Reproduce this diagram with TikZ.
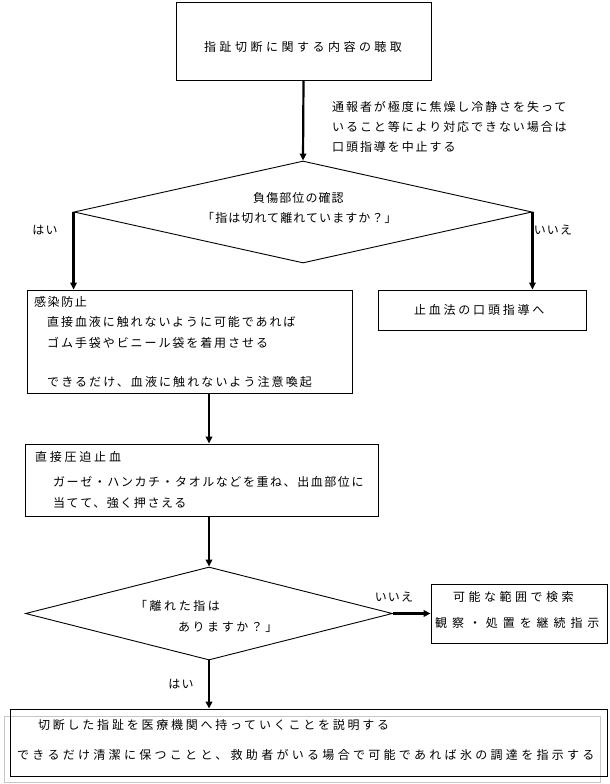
\documentclass[tikz,border=0pt]{standalone}
\usepackage{fontspec}
\setmainfont{Noto Sans CJK JP}
\usetikzlibrary{shapes.geometric,arrows.meta}
\newcommand{\LS}[2]{{\addfontfeature{LetterSpace=#1}#2}}
\tikzset{
  box/.style={draw, line width=0.9pt, inner sep=0pt},
  dia/.style={draw, diamond, inner sep=0pt, line width=0.9pt},
  txt/.style={anchor=west, inner sep=0pt, font=\fontsize{12pt}{14pt}\selectfont},
  ctxt/.style={inner sep=0pt, font=\fontsize{12pt}{14pt}\selectfont},
  arr/.style={line width=2.2pt, -{Triangle[width=6.5pt,length=7pt]}}
}
\begin{document}
\begin{tikzpicture}[x=1pt,y=-1pt]
\useasboundingbox[fill=white] (0,0) rectangle (610,784);
% boxes
\node[box, minimum width=255pt, minimum height=78pt] (top) at (303.5,41) {};
\node[dia, minimum width=458pt, minimum height=102pt] (d1) at (303,212) {};
\node[box, minimum width=325pt, minimum height=103pt] (b1) at (189.5,341.5) {};
\node[box, minimum width=208pt, minimum height=40pt] (b2) at (482,310) {};
\node[box, minimum width=353pt, minimum height=72pt] (b3) at (201.5,480) {};
\node[dia, minimum width=367pt, minimum height=93pt] (d2) at (209,613.5) {};
\node[box, minimum width=176pt, minimum height=59pt] (b4) at (519,613.5) {};
\node[draw=black!22, line width=0.9pt, inner sep=0pt, minimum width=596pt, minimum height=66pt] (g5) at (302,749) {};
\node[box, minimum width=597pt, minimum height=67pt] (b5) at (308.5,742.5) {};
% texts
\node[txt] (t0) at (204,47) {\LS{29}{指趾切断に関する内容の聴取}};
\node[txt] (a1) at (332,107) {\LS{16}{通報者が極度に焦燥し冷静さを失って}};
\node[txt] (a2) at (332,127) {\LS{16}{いること等により対応できない場合は}};
\node[txt] (a3) at (332,147) {\LS{16}{口頭指導を中止する}};
\node[txt] (q1) at (253,198) {\LS{9}{負傷部位の確認}};
\node[txt] (q2) at (202,218) {\LS{9}{「指は切れて離れていますか？」}};
\node[txt] (c1) at (34,302) {\LS{13}{感染防止}};
\node[txt] (c2) at (47,322) {\LS{16}{直接血液に触れないように可能であれば}};
\node[txt] (c3) at (47,343) {\LS{16}{ゴム手袋やビニール袋を着用させる}};
\node[txt] (c4) at (47,382) {\LS{17.5}{できるだけ、血液に触れないよう注意喚起}};
\node[txt] (s1) at (414,310) {\LS{23}{止血法の口頭指導へ}};
\node[txt] (p1) at (35,457) {\LS{23}{直接圧迫止血}};
\node[txt] (p2) at (53,482) {\LS{13}{ガーゼ・ハンカチ・タオルなどを重ね、出血部位に}};
\node[txt] (p3) at (53,503) {\LS{13}{当てて、強く押さえる}};
\node[txt] (r1) at (135,606) {\LS{21}{「離れた指は}};
\node[txt] (r2) at (178,627) {\LS{21}{ありますか？」}};
\node[txt] (k1) at (453,597) {\LS{29}{可能な範囲で検索}};
\node[txt] (k2) at (435,623) {\LS{41}{観察・処置を継続指示}};
\node[txt] (e1) at (38,725) {\LS{23}{切断した指趾を医療機関へ持っていくことを説明する}};
\node[txt] (e2) at (17,755) {\LS{27.5}{できるだけ清潔に保つことと、救助者がいる場合で可能であれば氷の調達を指示する}};
% labels
\node[ctxt] (y1) at (45,230) {\LS{10}{はい}};
\node[ctxt] (n1) at (553,230) {\LS{10}{いいえ}};
\node[ctxt] (n2) at (394,597) {\LS{10}{いいえ}};
\node[ctxt] (y2) at (181,684) {\LS{10}{はい}};
% connectors
\draw[arr] (top.south) -- (d1.north);
\draw[arr] (d1.west) -- (d1.west |- b1.north);
\draw[arr] (d1.east) -- (d1.east |- b2.north);
\draw[arr] (b1.south -| d2.north) -- (b3.north -| d2.north);
\draw[arr] (b3.south -| d2.north) -- (d2.north);
\draw[arr] (d2.east) -- (b4.west);
\draw[arr] (d2.south) -- (d2.south |- b5.north);
\end{tikzpicture}
\end{document}
